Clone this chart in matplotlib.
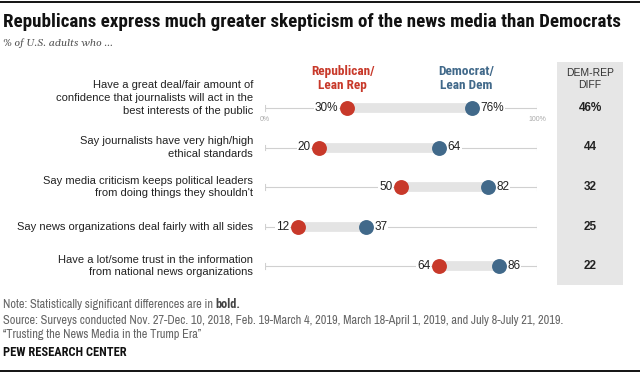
import matplotlib
matplotlib.use("Agg")
import matplotlib.pyplot as plt
from matplotlib import font_manager as fm
from matplotlib.patches import Rectangle
from matplotlib.lines import Line2D
import matplotlib.transforms as mtransforms

bold_names = set()
names = set()
for f in fm.fontManager.ttflist:
    names.add(f.name)
    w = f.weight if isinstance(f.weight, int) else {"bold": 700, "semibold": 600, "demibold": 600,
                                                     "heavy": 800, "black": 900, "extra bold": 800}.get(str(f.weight), 400)
    if w >= 600 and f.style == "normal":
        bold_names.add(f.name)

def pick(cands, need_bold=False):
    pool = bold_names if need_bold else names
    for c in cands:
        if c in pool:
            return c
    return "DejaVu Sans"

TITLE_F = pick(["Libre Franklin", "Archivo Narrow", "Roboto Condensed", "Barlow Semi Condensed",
                "Liberation Sans Narrow"], need_bold=True)
NARROW = pick(["Archivo Narrow", "Roboto Condensed", "Barlow Semi Condensed", "Liberation Sans Narrow"])
NARROW_B = pick(["Archivo Narrow", "Roboto Condensed", "Barlow Semi Condensed", "Liberation Sans Narrow"],
                need_bold=True)
SANS = "Liberation Sans"
SERIF = pick(["Georgia", "Gelasio", "Liberation Serif"])

categories = [
    "Have a great deal/fair amount of\nconfidence that journalists will act in the\nbest interests of the public",
    "Say journalists have very high/high\nethical standards",
    "Say media criticism keeps political leaders\nfrom doing things they shouldn't",
    "Say news organizations deal fairly with all sides",
    "Have a lot/some trust in the information\nfrom national news organizations",
]
rep = [30, 20, 50, 12, 64]
dem = [76, 64, 82, 37, 86]
diff = ["46%", "44", "32", "25", "22"]

RED = "#C8392A"
BLUE = "#41698A"

W, H = 640, 374
fig = plt.figure(figsize=(W / 100, H / 100), dpi=100)
renderer = fig.canvas.get_renderer()

def fx(px):
    return px / W

def fy(py):
    return 1 - py / H

def fit(t, target_px):
    w = t.get_window_extent(renderer).width
    t.set_fontsize(t.get_fontsize() * target_px / w)

# top and bottom rules
fig.add_artist(Line2D([0, 1], [fy(2), fy(2)], color="black", lw=1.3))
fig.add_artist(Line2D([0, 1], [fy(371), fy(371)], color="black", lw=1.3))

t = fig.text(fx(3), fy(22), "Republicans express much greater skepticism of the news media than Democrats",
             fontsize=13, fontweight="bold", family=TITLE_F, va="center", ha="left", color="#111111")
fit(t, 616)
t = fig.text(fx(3), fy(43), "% of U.S. adults who ...", fontsize=8.5, style="italic",
             family=SERIF, color="#555555", va="center", ha="left")
fit(t, 110)

# diff column background
fig.add_artist(Rectangle((fx(557), fy(285)), fx(623) - fx(557), fy(62) - fy(285),
                         facecolor="#E6E6E6", edgecolor="none", zorder=0))
fig.text(fx(590), fy(79), "DEM-REP\nDIFF", fontsize=7.5, family=SANS, ha="center",
         va="center", color="#333333", linespacing=1.25)

row_h = 39.5
top_px = 108 - row_h / 2
ax = fig.add_axes([fx(265), fy(top_px + 5 * row_h), fx(537) - fx(265), 5 * row_h / H])
ax.set_xlim(0, 100)
ax.set_ylim(4.5, -0.5)
ax.axis("off")

trans = mtransforms.blended_transform_factory(ax.transAxes, ax.transData)
for i, (cat, r, d, df) in enumerate(zip(categories, rep, dem, diff)):
    ax.plot([0, 100], [i, i], color="#D0D0D0", lw=0.8, zorder=1)
    ax.plot([0, 0], [i - 0.07, i + 0.07], color="#D0D0D0", lw=0.8)
    ax.plot([100, 100], [i - 0.07, i + 0.07], color="#D0D0D0", lw=0.8)
    ax.plot([r, d], [i, i], color="#E4E4E4", lw=7, solid_capstyle="butt", zorder=2)
    ax.scatter([r], [i], s=115, color=RED, zorder=3, linewidths=0)
    ax.scatter([d], [i], s=115, color=BLUE, zorder=3, linewidths=0)
    suf = "%" if i == 0 else ""
    ax.text(r - 3.2, i, f"{r}{suf}", ha="right", va="center", fontsize=8.5,
            family=SANS, color="#222222", zorder=4,
            bbox=dict(facecolor="white", edgecolor="none", pad=0.5))
    ax.text(d + 3.2, i, f"{d}{suf}", ha="left", va="center", fontsize=8.5,
            family=SANS, color="#222222", zorder=4,
            bbox=dict(facecolor="white", edgecolor="none", pad=0.5))
    ly = i - 0.25 if cat.count("\n") == 2 else i
    ax.text(-0.044, ly, cat, transform=trans, ha="right", va="center", fontsize=8,
            family=SANS, color="#222222", linespacing=1.35)
    ax.text(1.195, i, df, transform=trans, ha="center", va="center", fontsize=8.5,
            family=SANS, fontweight="bold", color="#222222")

ax.text(0, 0.3, "0%", ha="center", va="center", fontsize=5, color="#AAAAAA", family=SANS)
ax.text(100, 0.3, "100%", ha="center", va="center", fontsize=5, color="#AAAAAA", family=SANS)
ax.text(rep[0] - 1.5, -0.75, "Republican/\nLean Rep", ha="center", va="center", fontsize=9.6,
        fontweight="bold", family=NARROW_B, color=RED, linespacing=1.15)
ax.text(dem[0] - 2, -0.75, "Democrat/\nLean Dem", ha="center", va="center", fontsize=9.6,
        fontweight="bold", family=NARROW_B, color=BLUE, linespacing=1.15)

# footer
src = fig.text(fx(3), fy(320), "Source: Surveys conducted Nov. 27-Dec. 10, 2018, Feb. 19-March 4, 2019, "
               "March 18-April 1, 2019, and July 8-July 21, 2019.", fontsize=7, family=NARROW,
               color="#666666", va="center")
fit(src, 565)
fs = src.get_fontsize()
note = fig.text(fx(3), fy(304), "Note: Statistically significant differences are in", fontsize=fs,
                family=NARROW, color="#666666", va="center")
nw = note.get_window_extent(renderer).width
fig.text(fx(3 + nw + 2.5), fy(304), "bold.", fontsize=fs, family=NARROW_B, fontweight="bold",
         color="#444444", va="center")
fig.text(fx(3), fy(335), "\u201cTrusting the News Media in the Trump Era\u201d", fontsize=fs,
         family=NARROW, color="#666666", va="center")
fig.text(fx(3), fy(352), "PEW RESEARCH CENTER", fontsize=fs, family=NARROW_B,
         fontweight="bold", color="#111111", va="center")

fig.savefig("out.png", dpi=100)
